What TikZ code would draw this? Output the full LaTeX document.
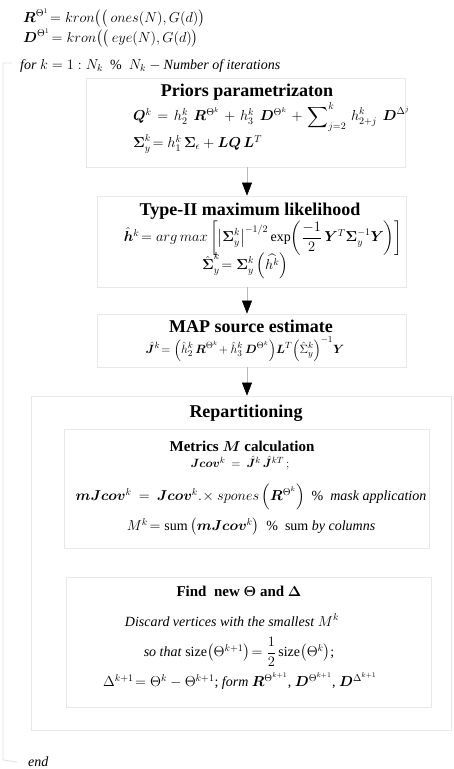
\documentclass[tikz,border=0pt]{standalone}
\usepackage{amsmath}
\usepackage{bm}
\usepackage{fontspec}
\setmainfont{Liberation Serif}
\usepackage{tikz}
\usetikzlibrary{arrows.meta,positioning}

\newcommand{\bsym}[1]{\bm{#1}}
\newcommand{\widemath}{\medmuskip=6mu\thickmuskip=7mu}

\begin{document}
\begin{tikzpicture}[
    x=1pt, y=-1pt,
    box/.style={draw=gray!18, line width=0.8pt, rectangle, inner sep=0pt},
    title/.style={font=\fontsize{18}{20}\selectfont\bfseries, inner sep=0pt},
    subtitle/.style={font=\fontsize{15}{17}\selectfont\bfseries, inner sep=0pt},
    eq/.style={font=\fontsize{14}{16}\selectfont, inner sep=0pt},
    arr/.style={draw=gray!55, line width=0.6pt, -{Triangle[width=10pt,length=13pt,black]}},
    loopline/.style={draw=gray!25, line width=0.8pt}
]
\useasboundingbox (0,0) rectangle (454,769);

% Initial matrices
\node[eq, anchor=west] (rinit) at (23,18) {$\bsym{R}^{\Theta^{1}}\!=kron\bigl(\bigl(\,ones(N),G(d)\bigr)$};
\node[eq, anchor=west] (dinit) at (23,38) {$\bsym{D}^{\Theta^{1}}\!=kron\bigl(\bigl(\,eye(N),G(d)\bigr)$};

% Loop header and end
\node[eq, anchor=west] (forline) at (20,66) {$\textit{for}\ k=1:N_k$\ \ \%\ \ $N_k-\textit{Number of iterations}$};
\node[eq, anchor=west] (endline) at (28,762) {\textit{end}};
\coordinate (looptop) at (3,63);
\coordinate (loopbot) at (3,760);
\draw[loopline] ([xshift=-8pt,yshift=3pt]forline.west) -- (looptop) -- (loopbot) -- ([xshift=-11pt]endline.west);

% Stage boxes
\node[box, minimum width=319pt, minimum height=89pt] (priors) at (245.5,122.5) {};
\node[box, minimum width=309pt, minimum height=91pt] (typeII) at (251.5,241.5) {};
\node[box, minimum width=309pt, minimum height=53pt] (map) at (251.5,340.5) {};
\node[box, minimum width=420pt, minimum height=334pt] (repart) at (241,563) {};
\node[box, minimum width=365pt, minimum height=119pt] (metrics) at (246.5,488.5) {};
\node[box, minimum width=365pt, minimum height=130pt] (findnew) at (248.5,642) {};

% Priors parametrizaton
\node[title] (priorsT) at (247,92) {Priors parametrizaton};
\node[eq, anchor=west, font=\fontsize{14.5}{17}\selectfont] (qeq) at (133,117) {$\widemath\bsym{Q}^k=h_2^k\;\bsym{R}^{\Theta^k}+h_3^k\;\bsym{D}^{\Theta^k}+\displaystyle\sum\nolimits_{j=2}^{k}\,h_{2+j}^k\;\bsym{D}^{\Delta^j}$};
\node[eq, anchor=west] (sigeq) at (133,144) {$\bsym{\Sigma}_y^k\!=h_1^k\,\bsym{\Sigma}_\epsilon+\bsym{L}\bsym{Q}\,\bsym{L}^T$};

% Type-II maximum likelihood
\node[title] (typeIIT) at (250,211) {Type-II maximum likelihood};
\node[eq] (heq) at (263,238) {$\hat{\bsym{h}}^k\!=arg\,max\left[\left|\bsym{\Sigma}_y^k\right|^{-1/2}\exp\!\left(\dfrac{-1}{2}\,\bsym{Y}^T\bsym{\Sigma}_y^{-1}\bsym{Y}\right)\right]$};
\node[eq] (sigheq) at (245,266) {$\hat{\bsym{\Sigma}}_y^k\!=\bsym{\Sigma}_y^k\left(\widehat{h^k}\right)$};

% MAP source estimate
\node[title] (mapT) at (251,326) {MAP source estimate};
\node[eq, font=\fontsize{13}{15}\selectfont] (jeq) at (245,349) {$\hat{\bsym{J}}^k\!=\Bigl(\hat{h}_2^k\,\bsym{R}^{\Theta^k}\!+\hat{h}_3^k\,\bsym{D}^{\Theta^k}\Bigr)\bsym{L}^T\Bigl(\hat{\Sigma}_y^k\Bigr)^{-1}\bsym{Y}$};

% Repartitioning
\node[title] (repartT) at (246,413) {Repartitioning};
\node[subtitle] (metricsT) at (242,446) {Metrics $\bsym{M}$ calculation};
\node[eq, font=\fontsize{13}{15}\selectfont] (jcoveq) at (240,463) {$\bsym{Jcov}^k\:=\:\hat{\bsym{J}}^k\,\hat{\bsym{J}}^{kT}\,;$};
\node[eq] (mjcoveq) at (251,497) {$\bsym{mJcov}^k\:=\:\bsym{Jcov}^k.\!\times spones\left(\bsym{R}^{\Theta^k}\right)$\ \ \%\ \ \textit{mask application}};
\node[eq] (meq) at (251,527) {$M^k\!=\mathrm{sum}\left(\bsym{mJcov}^k\right)$\ \ \%\ \ sum \textit{by columns}};

\node[subtitle] (findT) at (239,591) {Find\ \ new $\bsym{\Theta}$ and $\bsym{\Delta}$};
\node[eq] (discard) at (232,620) {\textit{Discard vertices with the smallest} $M^k$};
\node[eq] (sizeeq) at (239,652) {\textit{so that} $\mathrm{size}\bigl(\Theta^{k+1}\bigr)\!=\dfrac{1}{2}\,\mathrm{size}\bigl(\Theta^{k}\bigr)$;};
\node[eq] (deltaeq) at (240,681) {$\Delta^{k+1}\!=\Theta^k-\Theta^{k+1}$; \textit{form} $\bsym{R}^{\Theta^{k+1}}$, $\bsym{D}^{\Theta^{k+1}}$, $\bsym{D}^{\Delta^{k+1}}$};

% Flow arrows
\coordinate (axis) at (247,0);
\draw[arr] (priors.south -| axis) -- (typeII.north -| axis);
\draw[arr] (typeII.south -| axis) -- (map.north -| axis);
\draw[arr] (map.south -| axis) -- (repart.north -| axis);

\end{tikzpicture}
\end{document}
